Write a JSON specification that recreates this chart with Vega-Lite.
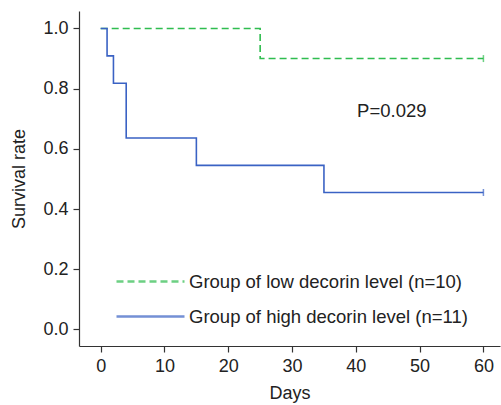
{
  "$schema": "https://vega.github.io/schema/vega-lite/v6.json",
  "width": 421,
  "height": 335,
  "autosize": {"type": "none"},
  "padding": {"left": 79, "top": 11, "right": 1, "bottom": 59},
  "background": "white",
  "config": {
    "view": {"stroke": null},
    "font": "Liberation Sans",
    "axis": {
      "grid": false,
      "domainColor": "#333333",
      "tickColor": "#333333",
      "domainWidth": 1.2,
      "tickWidth": 1.2,
      "tickSize": 6,
      "labelColor": "#222222",
      "labelFont": "Liberation Sans",
      "labelFontSize": 18,
      "labelPadding": 5,
      "titleColor": "#222222",
      "titleFont": "Liberation Sans",
      "titleFontSize": 18,
      "titleFontWeight": "normal"
    }
  },
  "datasets": {
    "km": [
      {"group": "Group of low decorin level (n=10)", "day": 0, "surv": 1.0, "censor": false},
      {"group": "Group of low decorin level (n=10)", "day": 25, "surv": 0.9, "censor": false},
      {"group": "Group of low decorin level (n=10)", "day": 60, "surv": 0.9, "censor": true},
      {"group": "Group of high decorin level (n=11)", "day": 0, "surv": 1.0, "censor": false},
      {"group": "Group of high decorin level (n=11)", "day": 1, "surv": 0.909, "censor": false},
      {"group": "Group of high decorin level (n=11)", "day": 2, "surv": 0.818, "censor": false},
      {"group": "Group of high decorin level (n=11)", "day": 4, "surv": 0.636, "censor": false},
      {"group": "Group of high decorin level (n=11)", "day": 15, "surv": 0.545, "censor": false},
      {"group": "Group of high decorin level (n=11)", "day": 35, "surv": 0.455, "censor": false},
      {"group": "Group of high decorin level (n=11)", "day": 60, "surv": 0.455, "censor": true}
    ],
    "note": [{"label": "P=0.029", "day": 40.2, "surv": 0.725}]
  },
  "layer": [
    {
      "data": {"name": "km"},
      "mark": {"type": "line", "interpolate": "step-after", "strokeWidth": 1.6},
      "encoding": {
        "x": {
          "field": "day", "type": "quantitative",
          "scale": {"domain": [-3.4, 62.6], "nice": false, "zero": false},
          "axis": {"title": "Days", "values": [0, 10, 20, 30, 40, 50, 60], "titlePadding": 9}
        },
        "y": {
          "field": "surv", "type": "quantitative",
          "scale": {"domain": [-0.055, 1.058], "nice": false, "zero": false},
          "axis": {"title": "Survival rate", "values": [0, 0.2, 0.4, 0.6, 0.8, 1.0], "format": ".1f", "titlePadding": 14}
        },
        "color": {
          "field": "group", "type": "nominal",
          "scale": {
            "domain": ["Group of low decorin level (n=10)", "Group of high decorin level (n=11)"],
            "range": ["#2fbd4f", "#3a62c4"]
          },
          "legend": {
            "title": null,
            "orient": "none",
            "legendX": 53,
            "legendY": 252,
            "symbolType": "M-2,0H2",
            "symbolSize": 1156,
            "symbolStrokeWidth": 2.7,
            "labelFont": "Liberation Sans",
            "labelFontSize": 18.5,
            "labelColor": "#222222",
            "labelOffset": 20,
            "labelLimit": 400,
            "rowPadding": 7
          }
        },
        "strokeDash": {
          "field": "group", "type": "nominal",
          "scale": {
            "domain": ["Group of low decorin level (n=10)", "Group of high decorin level (n=11)"],
            "range": [[7, 4], [1, 0]]
          },
          "legend": null
        }
      }
    },
    {
      "data": {"name": "km"},
      "transform": [{"filter": "datum.censor"}],
      "mark": {"type": "tick", "orient": "vertical", "size": 7, "thickness": 1.5},
      "encoding": {
        "x": {"field": "day", "type": "quantitative"},
        "y": {"field": "surv", "type": "quantitative"},
        "color": {"field": "group", "type": "nominal"}
      }
    },
    {
      "data": {"name": "note"},
      "mark": {"type": "text", "align": "left", "baseline": "middle", "fontSize": 18.5, "font": "Liberation Sans", "fill": "#222222"},
      "encoding": {
        "x": {"field": "day", "type": "quantitative"},
        "y": {"field": "surv", "type": "quantitative"},
        "text": {"field": "label", "type": "nominal"}
      }
    }
  ]
}
